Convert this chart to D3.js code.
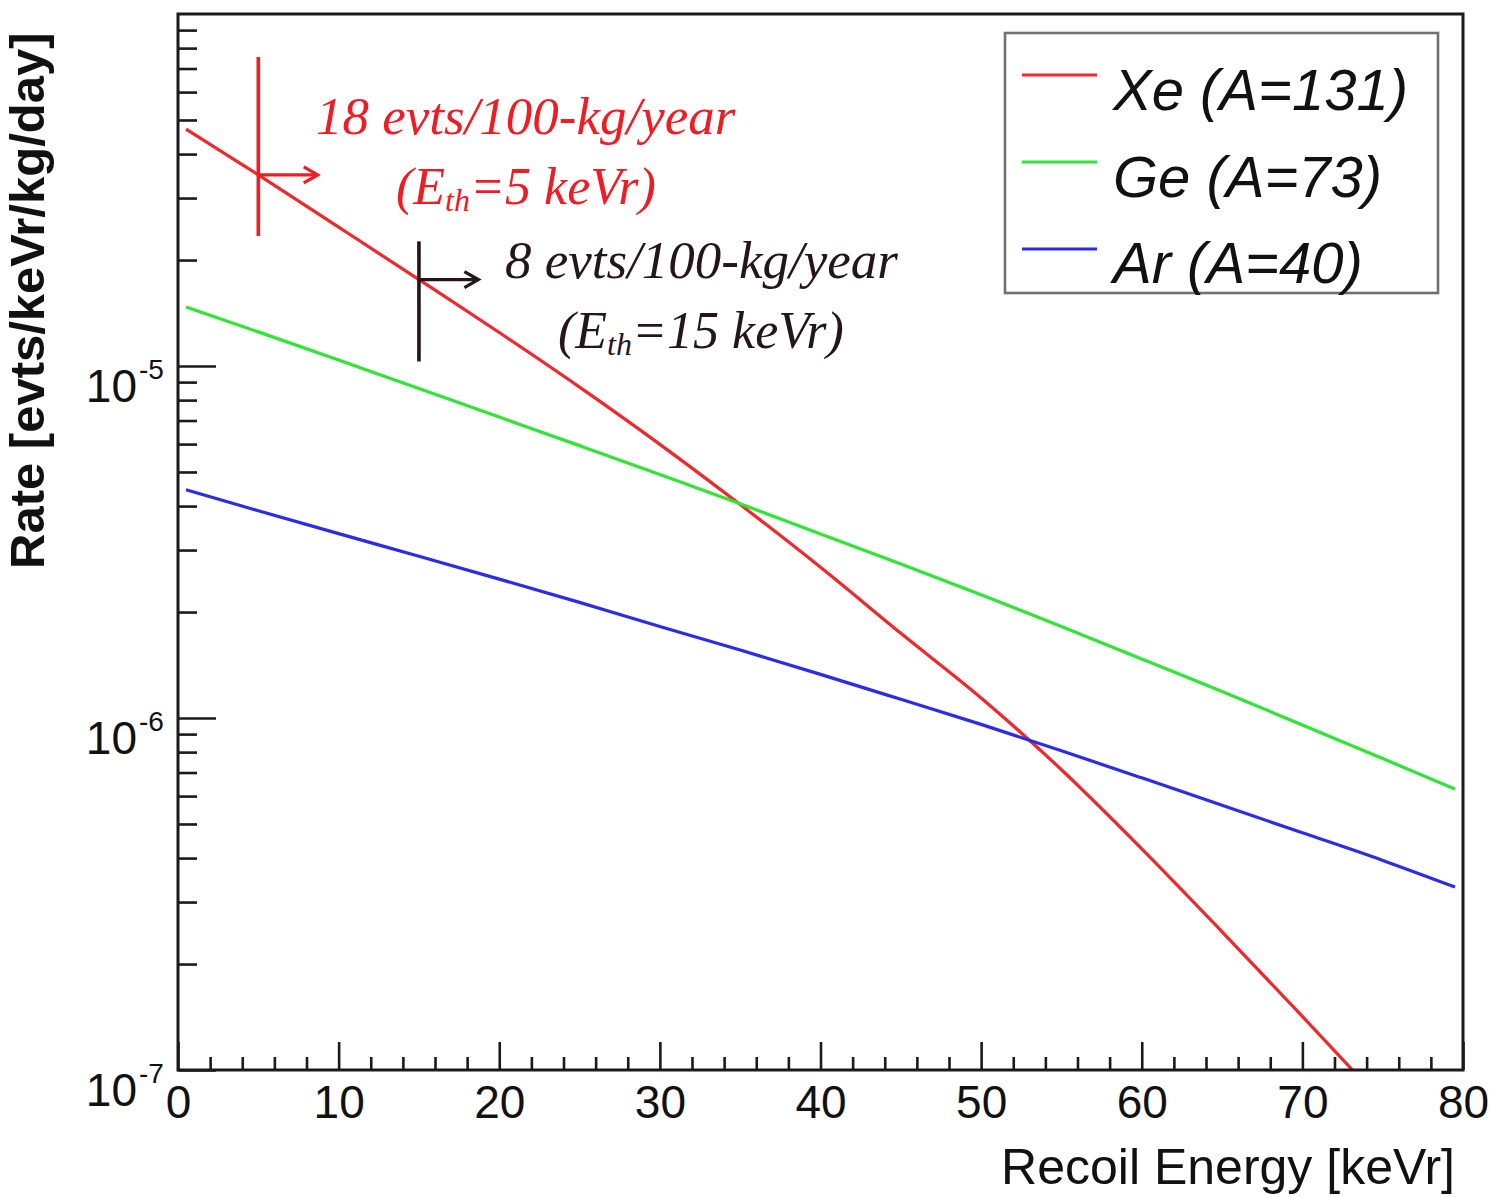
<!DOCTYPE html>
<html>
<head>
<meta charset="utf-8">
<script src="https://cdn.jsdelivr.net/npm/d3@7"></script>
<style>
  html, body { margin: 0; padding: 0; background: #ffffff; }
  svg { display: block; }
</style>
</head>
<body>
<script>
// Differential WIMP recoil rate for three target nuclei
const energies = [0.5, 5, 10, 15, 20, 25, 30, 35, 40, 45, 50, 55, 60, 65, 70, 75, 79.5];
const xeRate = [4.71e-5, 3.49e-5, 2.48e-5, 1.76e-5, 1.245e-5, 8.71e-6, 5.99e-6, 4.04e-6, 2.68e-6,
                1.74e-6, 1.14e-6, 7.13e-7, 4.25e-7, 2.47e-7, 1.42e-7, 8.09e-8, null];
const geRate = [1.47e-5, 1.25e-5, 1.04e-5, 8.63e-6, 7.16e-6, 5.94e-6, 4.92e-6, 4.06e-6, 3.33e-6,
                2.74e-6, 2.24e-6, 1.82e-6, 1.47e-6, 1.19e-6, 9.55e-7, 7.67e-7, 6.28e-7];
const arRate = [4.45e-6, 3.88e-6, 3.34e-6, 2.88e-6, 2.48e-6, 2.13e-6, 1.82e-6, 1.56e-6, 1.33e-6,
                1.13e-6, 9.59e-7, 8.07e-7, 6.76e-7, 5.65e-7, 4.72e-7, 3.94e-7, 3.31e-7];
const seriesNames = ["Xe (A=131)", "Ge (A=73)", "Ar (A=40)"];

const xMajorTicks = [0, 10, 20, 30, 40, 50, 60, 70, 80];
const xMinorTicks = [2, 4, 6, 8, 12, 14, 16, 18, 22, 24, 26, 28, 32, 34, 36, 38, 42, 44, 46, 48,
                     52, 54, 56, 58, 62, 64, 66, 68, 72, 74, 76, 78];
const yMajorTicks = [1e-7, 1e-6, 1e-5];
const yTickExponents = ["-7", "-6", "-5"];

// Energy thresholds and the Xe rate integrated above them
const thresholds = [5, 15];
const thresholdCounts = ["18 evts/100-kg/year", "8 evts/100-kg/year"];
const thresholdLabels = ["=5 keVr)", "=15 keVr)"];

// ---- styling ----
const W = 1494, H = 1197;
const colors = { Xe: "#f0282c", Ge: "#2fe636", Ar: "#2b2bea" };
const seriesColors = [colors.Xe, colors.Ge, colors.Ar];
const markerColors = ["#ee1c24", "#23151a"];
const sans = "'Liberation Sans', Arial, Helvetica, sans-serif";
const serif = "'Liberation Serif', 'Times New Roman', serif";

const svg = d3.select("body").append("svg").attr("width", W).attr("height", H);

const x = d3.scaleLinear().domain([0, 80]).range([178, 1463]);
const y = d3.scaleLog().domain([1e-7, 1e-4]).range([1070, 14]);

svg.append("defs").append("clipPath").attr("id", "plotArea")
  .append("rect")
  .attr("x", x(0)).attr("y", y(1e-4))
  .attr("width", x(80) - x(0)).attr("height", y(1e-7) - y(1e-4));

// ---- curves ----
const line = d3.line()
  .defined(d => d[1] != null)
  .x(d => x(d[0]))
  .y(d => y(d[1]))
  .curve(d3.curveMonotoneX);

const rates = [xeRate, geRate, arRate];
const curves = svg.append("g").attr("clip-path", "url(#plotArea)");
rates.forEach((r, i) => {
  curves.append("path")
    .datum(energies.map((e, j) => [e, r[j]]))
    .attr("d", line)
    .attr("fill", "none")
    .attr("stroke", seriesColors[i])
    .attr("stroke-width", 3.2);
});

// ---- axes ----
const axisStyle = g => {
  g.select(".domain").remove();
  g.selectAll(".tick line").attr("stroke", "#1a1a1a").attr("stroke-width", 2.6);
};

svg.append("g")
  .attr("transform", `translate(0,${y(1e-7)})`)
  .call(d3.axisBottom(x).tickValues(xMinorTicks).tickSize(-13).tickFormat(""))
  .call(axisStyle);

const xAxis = svg.append("g")
  .attr("transform", `translate(0,${y(1e-7)})`)
  .call(d3.axisBottom(x).tickValues(xMajorTicks).tickSize(-28).tickPadding(16)
    .tickFormat(d3.format("d")))
  .call(axisStyle);
xAxis.selectAll(".tick text")
  .attr("fill", "#111")
  .attr("font-family", sans)
  .attr("font-size", 46)
  .attr("dy", "0.71em")
  .attr("y", 15);

const yMinorTicks = [];
[1e-7, 1e-6, 1e-5].forEach(base => {
  for (let k = 2; k <= 9; k++) yMinorTicks.push(k * base);
});
svg.append("g")
  .attr("transform", `translate(${x(0)},0)`)
  .call(d3.axisLeft(y).tickValues(yMinorTicks).tickSize(-19).tickFormat(""))
  .call(axisStyle);
svg.append("g")
  .attr("transform", `translate(${x(0)},0)`)
  .call(d3.axisLeft(y).tickValues(yMajorTicks).tickSize(-38).tickFormat(""))
  .call(axisStyle);

// power-of-ten labels
const yLab = svg.append("g").attr("font-family", sans).attr("fill", "#111");
yMajorTicks.forEach((v, i) => {
  yLab.append("text")
    .attr("x", 137).attr("y", y(v) + 36)
    .attr("text-anchor", "end")
    .attr("font-size", 46)
    .text("10");
  yLab.append("text")
    .attr("x", 139).attr("y", y(v) + 13)
    .attr("font-size", 28)
    .text(yTickExponents[i]);
});

// frame
svg.append("rect")
  .attr("x", x(0)).attr("y", y(1e-4))
  .attr("width", x(80) - x(0)).attr("height", y(1e-7) - y(1e-4))
  .attr("fill", "none")
  .attr("stroke", "#1a1a1a")
  .attr("stroke-width", 3);

// axis titles
svg.append("text")
  .attr("x", 1455).attr("y", 1184)
  .attr("text-anchor", "end")
  .attr("font-family", sans)
  .attr("font-size", 50)
  .attr("fill", "#111")
  .text("Recoil Energy [keVr]");

svg.append("text")
  .attr("transform", "translate(44,569) rotate(-90)")
  .attr("text-anchor", "start")
  .attr("font-family", sans)
  .attr("font-weight", "bold")
  .attr("font-size", 49)
  .attr("fill", "#111")
  .text("Rate [evts/keVr/kg/day]");

// ---- threshold markers ----
const markerSpan = [[7.55e-5, 2.34e-5], [2.26e-5, 1.03e-5]];
const markerRates = thresholds.map(t => xeRate[energies.indexOf(t)]);
thresholds.forEach((t, i) => {
  const g = svg.append("g").attr("stroke", markerColors[i]).attr("fill", "none");
  const px = x(t), py = y(markerRates[i]);
  g.append("line")
    .attr("x1", px).attr("x2", px)
    .attr("y1", y(markerSpan[i][0])).attr("y2", y(markerSpan[i][1]))
    .attr("stroke-width", 3.6);
  const tip = x(t + 3.7);
  g.append("line")
    .attr("x1", px).attr("x2", tip)
    .attr("y1", py).attr("y2", py)
    .attr("stroke-width", 3.2);
  g.append("path")
    .attr("d", `M${tip - 14},${py - 8} L${tip},${py} L${tip - 14},${py + 8}`)
    .attr("stroke-width", 3.2)
    .attr("stroke-linejoin", "miter");
});

// ---- threshold annotations ----
const annot = [
  { count: [316, 134], label: [396, 204] },
  { count: [505, 278], label: [558, 348] }
];
annot.forEach((a, i) => {
  const g = svg.append("g")
    .attr("font-family", serif)
    .attr("font-style", "italic")
    .attr("fill", markerColors[i]);
  g.append("text")
    .attr("x", a.count[0]).attr("y", a.count[1])
    .attr("font-size", 53)
    .text(thresholdCounts[i]);
  const t = g.append("text")
    .attr("x", a.label[0]).attr("y", a.label[1])
    .attr("font-size", 52);
  t.append("tspan").text("(E");
  t.append("tspan").attr("font-size", 32).attr("dy", 7).text("th");
  t.append("tspan").attr("dy", -7).text(thresholdLabels[i]);
});

// ---- legend ----
const legend = svg.append("g");
legend.append("rect")
  .attr("x", 1005).attr("y", 33)
  .attr("width", 433).attr("height", 260)
  .attr("fill", "#ffffff")
  .attr("stroke", "#707070")
  .attr("stroke-width", 2.6);
const legendRows = [75, 162, 249];
const legendBaselines = [110, 197, 283];
seriesNames.forEach((name, i) => {
  legend.append("line")
    .attr("x1", 1022).attr("x2", 1097)
    .attr("y1", legendRows[i]).attr("y2", legendRows[i])
    .attr("stroke", seriesColors[i])
    .attr("stroke-width", 3.2);
  legend.append("text")
    .attr("x", 1113).attr("y", legendBaselines[i])
    .attr("font-family", sans)
    .attr("font-style", "italic")
    .attr("font-size", 58)
    .attr("fill", "#111")
    .text(name);
});
</script>
</body>
</html>
